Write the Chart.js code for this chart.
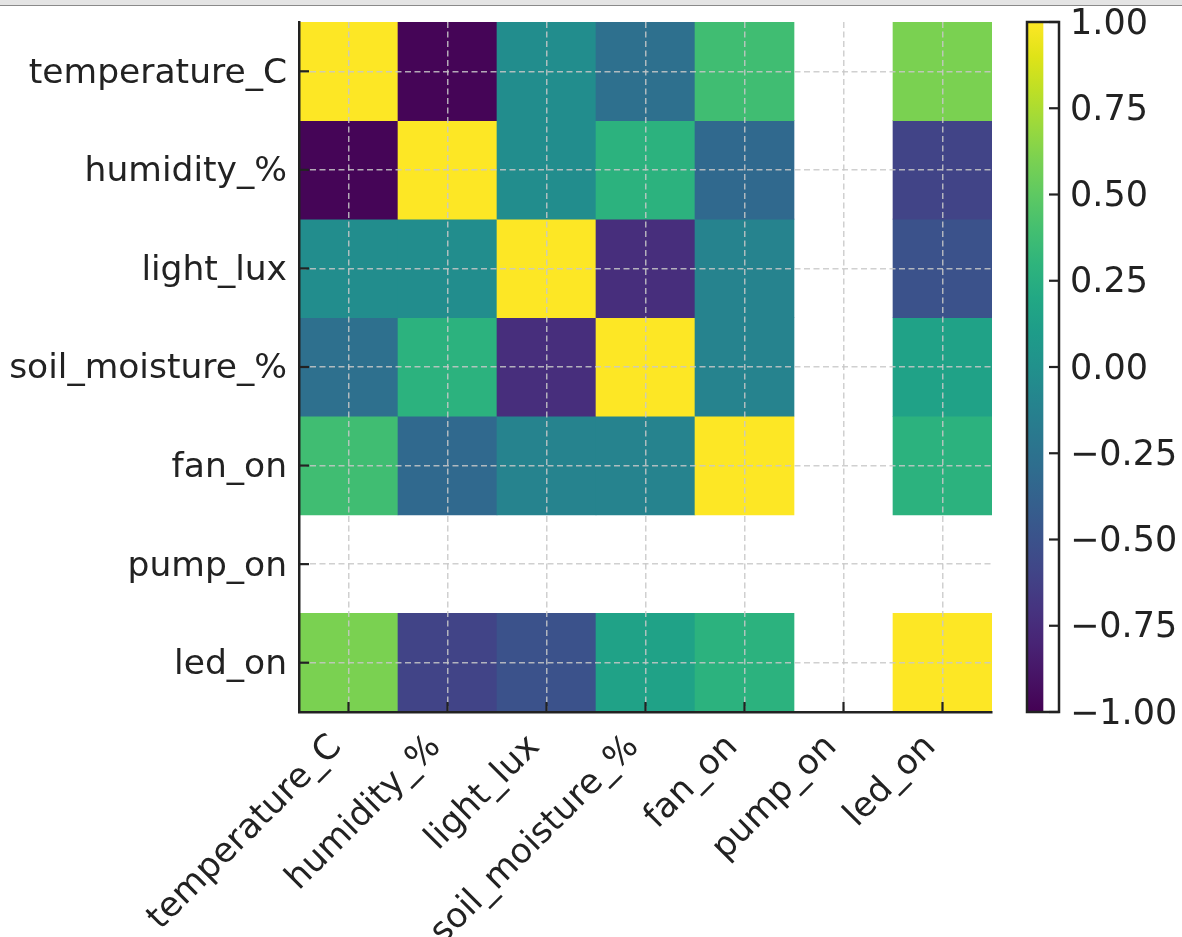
<!DOCTYPE html>
<html>
<head>
<meta charset="utf-8">
<script src="https://cdn.jsdelivr.net/npm/chart.js@4.4.0/dist/chart.umd.min.js"></script>
<style>
html,body{margin:0;padding:0;background:#fff;}
#wrap{position:relative;width:1182px;height:937px;overflow:hidden;}
canvas{position:absolute;left:0;top:0;}
#topbar{position:absolute;left:0;top:0;width:1182px;height:5px;background:#e4e4e4;border-bottom:1px solid #8a8a8a;z-index:5;}
</style>
</head>
<body>
<div id="wrap">
  <canvas id="heat" width="1182" height="937"></canvas>
  <canvas id="cbar" width="1182" height="937"></canvas>
  <div id="topbar"></div>
</div>
<script>
// ---------------- DATA ----------------
const variables = ['temperature_C', 'humidity_%', 'light_lux', 'soil_moisture_%', 'fan_on', 'pump_on', 'led_on'];
const rowTemperature  = [ 1.00, -0.98, -0.03, -0.27,  0.38, NaN,  0.60];
const rowHumidity     = [-0.98,  1.00, -0.03,  0.28, -0.32, NaN, -0.60];
const rowLight        = [-0.03, -0.03,  1.00, -0.74, -0.11, NaN, -0.50];
const rowSoilMoisture = [-0.27,  0.28, -0.74,  1.00, -0.11, NaN,  0.15];
const rowFan          = [ 0.38, -0.32, -0.11, -0.11,  1.00, NaN,  0.28];
const rowPump         = [  NaN,   NaN,   NaN,   NaN,   NaN, NaN,   NaN];
const rowLed          = [ 0.60, -0.60, -0.50,  0.15,  0.28, NaN,  1.00];
const matrix = [rowTemperature, rowHumidity, rowLight, rowSoilMoisture, rowFan, rowPump, rowLed];
const colorMin = -1, colorMax = 1;
const colorbarTicks = [-1.00, -0.75, -0.50, -0.25, 0.00, 0.25, 0.50, 0.75, 1.00];

// viridis lookup (21 anchors)
const viridisStops = ['#440154','#471365','#482475','#463480','#414487','#3b528b','#355f8d','#2f6c8e','#2a788e','#25848e','#21918c','#1e9c89','#22a884','#2fb47c','#44bf70','#5ec962','#7ad151','#9bd93c','#bddf26','#dfe318','#fde725'];

// ---------------- HELPERS ----------------
function hexToRgb(h){ return [parseInt(h.substr(1,2),16), parseInt(h.substr(3,2),16), parseInt(h.substr(5,2),16)]; }
const viridisRgb = viridisStops.map(hexToRgb);
function viridis(t){
  t = Math.max(0, Math.min(1, t));
  const n = viridisRgb.length - 1;
  const f = t * n; const i = Math.min(Math.floor(f), n - 1); const u = f - i;
  const a = viridisRgb[i], b = viridisRgb[i+1];
  const c = a.map((v, k) => Math.round(v + (b[k] - v) * u));
  return 'rgb(' + c.join(',') + ')';
}
function norm(v){ return (v - colorMin) / (colorMax - colorMin); }
function fmtTick(v){ return (v < 0 ? '\u2212' : '') + Math.abs(v).toFixed(2); }
function zeroPad(s){ s.paddingTop = 0; s.paddingBottom = 0; s.paddingLeft = 0; s.paddingRight = 0; }

const FONT = "'DejaVu Sans', 'Liberation Sans', sans-serif";
const TEXT = '#222222';
const SPINE = '#222222';
Chart.defaults.font.family = FONT;
Chart.defaults.color = TEXT;

// ---------------- HEATMAP ----------------
const heatDatasets = matrix.map((row, r) => ({
  label: variables[r],
  data: row.map(v => Number.isNaN(v) ? null : [r - 0.5, r + 0.5]),
  backgroundColor: row.map(v => Number.isNaN(v) ? 'rgba(0,0,0,0)' : viridis(norm(v))),
  borderWidth: 0,
  barPercentage: 1,
  categoryPercentage: 1,
  grouped: false
}));

const gridStyle = { color: 'rgba(200,200,200,0.85)', lineWidth: 1.5, drawTicks: false, offset: false, z: 1 };
const borderStyle = { display: true, color: SPINE, width: 2.5, dash: [6, 3.5], z: 2 };

const innerTicks = {
  id: 'innerTicks',
  afterDraw(chart) {
    const ctx = chart.ctx, x = chart.scales.x, y = chart.scales.y, ca = chart.chartArea;
    ctx.save();
    ctx.strokeStyle = SPINE; ctx.lineWidth = 2.2;
    x.ticks.forEach((t, i) => {
      const px = x.getPixelForTick(i);
      ctx.beginPath(); ctx.moveTo(px, ca.bottom); ctx.lineTo(px, ca.bottom - 10); ctx.stroke();
    });
    y.ticks.forEach((t) => {
      const py = y.getPixelForValue(t.value);
      ctx.beginPath(); ctx.moveTo(ca.left, py); ctx.lineTo(ca.left + 10, py); ctx.stroke();
    });
    ctx.restore();
  }
};

new Chart(document.getElementById('heat'), {
  type: 'bar',
  data: { labels: variables, datasets: heatDatasets },
  options: {
    responsive: false,
    animation: false,
    devicePixelRatio: 1,
    layout: { padding: { top: 22, right: 190, left: 0, bottom: 0 } },
    plugins: { legend: { display: false }, tooltip: { enabled: false } },
    scales: {
      x: {
        type: 'category',
        position: 'bottom',
        offset: true,
        afterFit: s => { s.height = 225; zeroPad(s); },
        grid: gridStyle,
        border: borderStyle,
        ticks: { autoSkip: false, maxRotation: 45, minRotation: 45, padding: 15, labelOffset: -12,
                 font: { size: 34.5, family: FONT }, color: TEXT }
      },
      y: {
        type: 'linear',
        position: 'left',
        min: -0.5, max: variables.length - 0.5,
        reverse: true,
        afterBuildTicks: s => { s.ticks = variables.map((_, i) => ({ value: i })); },
        afterFit: s => { s.width = 299; zeroPad(s); },
        grid: gridStyle,
        border: borderStyle,
        ticks: { autoSkip: false, padding: 12, labelOffset: 2.5, callback: v => variables[v],
                 font: { size: 34.5, family: FONT }, color: TEXT }
      }
    }
  },
  plugins: [innerTicks]
});

// ---------------- COLORBAR ----------------
const cbFrame = {
  id: 'cbFrame',
  afterDraw(chart) {
    const ctx = chart.ctx, ca = chart.chartArea, y = chart.scales.y;
    ctx.save();
    ctx.strokeStyle = SPINE;
    ctx.lineWidth = 2.2;
    colorbarTicks.forEach(v => {
      const py = y.getPixelForValue(v);
      ctx.beginPath(); ctx.moveTo(ca.right, py); ctx.lineTo(ca.right - 10, py); ctx.stroke();
    });
    ctx.lineWidth = 2.5;
    ctx.strokeRect(ca.left, ca.top, ca.right - ca.left, ca.bottom - ca.top);
    ctx.restore();
  }
};

new Chart(document.getElementById('cbar'), {
  type: 'bar',
  data: {
    labels: ['colorbar'],
    datasets: [{
      data: [[colorMin, colorMax]],
      backgroundColor: (c) => {
        const chart = c.chart; const ca = chart.chartArea;
        if (!ca) return viridis(0.5);
        const ys = chart.scales.y;
        const g = chart.ctx.createLinearGradient(0, ys.getPixelForValue(colorMin), 0, ys.getPixelForValue(colorMax));
        viridisStops.forEach((col, i) => g.addColorStop(i / (viridisStops.length - 1), col));
        return g;
      },
      borderWidth: 0,
      barPercentage: 1,
      categoryPercentage: 1
    }]
  },
  options: {
    responsive: false,
    animation: false,
    devicePixelRatio: 1,
    layout: { padding: { top: 22, right: 0, left: 1027, bottom: 225 } },
    plugins: { legend: { display: false }, tooltip: { enabled: false } },
    scales: {
      x: { display: false, offset: false },
      y: {
        type: 'linear',
        position: 'right',
        min: colorMin, max: colorMax,
        afterBuildTicks: s => { s.ticks = colorbarTicks.map(v => ({ value: v })); },
        afterFit: s => { s.width = 123; zeroPad(s); },
        grid: { display: false, drawTicks: false },
        border: { display: false },
        ticks: { padding: 11, labelOffset: 2.5, callback: v => fmtTick(v), font: { size: 35, family: FONT }, color: TEXT }
      }
    }
  },
  plugins: [cbFrame]
});
</script>
</body>
</html>
